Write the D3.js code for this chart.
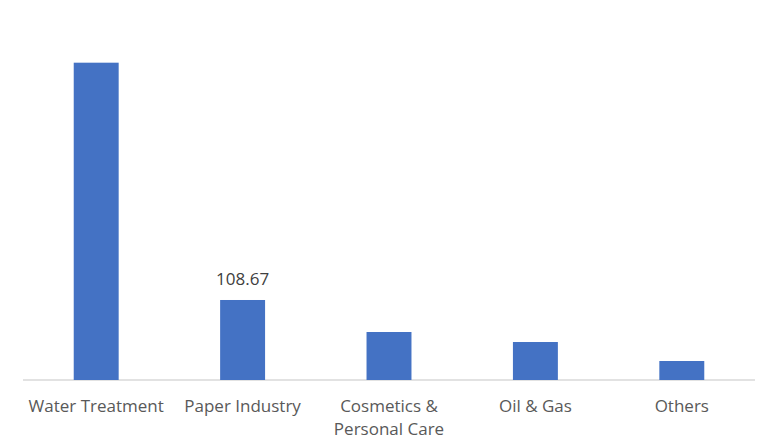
<!DOCTYPE html>
<html><head><meta charset="utf-8">
<script src="https://cdn.jsdelivr.net/npm/d3@7"></script>
<style>body{margin:0;background:#fff}</style>
</head><body>
<svg id="c" width="780" height="440"></svg>
<script>
const categories = ["Water Treatment", "Paper Industry", "Cosmetics & Personal Care", "Oil & Gas", "Others"];
const categoryLines = [["Water Treatment"], ["Paper Industry"], ["Cosmetics &", "Personal Care"], ["Oil & Gas"], ["Others"]];
const values = [431.0, 108.67, 65.2, 51.6, 25.8];
const labelled = [false, true, false, false, false];

const svg = d3.select("#c");
const x = d3.scaleBand().domain(categories).range([23, 755]).paddingInner(0.693).paddingOuter(0.3465);
const y = d3.scaleLinear().domain([0, 450]).range([380, 48.7]);

svg.append("line").attr("x1", 23).attr("x2", 755).attr("y1", y(0)).attr("y2", y(0))
  .attr("stroke", "#d9d9d9").attr("stroke-width", 1.5);

svg.selectAll("rect.bar").data(values).enter().append("rect")
  .attr("class", "bar")
  .attr("x", (d, i) => x(categories[i]))
  .attr("width", x.bandwidth())
  .attr("y", d => y(d))
  .attr("height", d => y(0) - y(d))
  .attr("fill", "#4472c4");

const valData = categories.map((c, i) => ({c, v: values[i], show: labelled[i]})).filter(d => d.show);
svg.selectAll("text.val").data(valData)
  .enter().append("text").attr("class", "val")
  .attr("x", d => x(d.c) + x.bandwidth() / 2)
  .attr("y", d => y(d.v) - 15)
  .attr("text-anchor", "middle")
  .attr("font-family", "Open Sans, sans-serif").attr("font-size", 17).attr("fill", "#404040")
  .text(d => d.v.toFixed(2));

const lab = svg.selectAll("g.lab").data(categories).enter().append("g").attr("class", "lab");
lab.each(function(c, i) {
  const t = d3.select(this).append("text")
    .attr("x", x(c) + x.bandwidth() / 2)
    .attr("y", 412)
    .attr("text-anchor", "middle")
    .attr("font-family", "Open Sans, sans-serif").attr("font-size", 17).attr("fill", "#595959");
  categoryLines[i].forEach((l, k) => {
    t.append("tspan").attr("x", x(c) + x.bandwidth() / 2).attr("dy", k === 0 ? 0 : 23).text(l);
  });
});
</script>
</body></html>
